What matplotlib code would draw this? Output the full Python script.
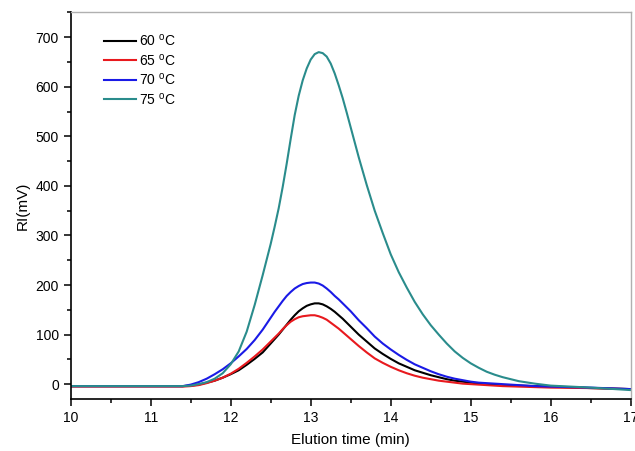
import numpy as np
import matplotlib
matplotlib.use("Agg")
from matplotlib import pyplot as plt
from matplotlib.ticker import MultipleLocator

plt.rcParams['font.family'] = ['Liberation Sans', 'DejaVu Sans']
plt.rcParams['mathtext.fontset'] = 'custom'
plt.rcParams['mathtext.rm'] = 'Liberation Sans'

# Elution time grid (min), finer around the peak
time = [10.0, 10.5, 11.0, 11.4, 11.5, 11.6, 11.7, 11.8, 11.9,
        12.0, 12.1, 12.2, 12.3, 12.4, 12.5,
        12.55, 12.6, 12.65, 12.7, 12.75, 12.8, 12.85, 12.9, 12.95, 13.0, 13.05,
        13.1, 13.15, 13.2, 13.25, 13.3, 13.35, 13.4, 13.45, 13.5, 13.55, 13.6,
        13.7, 13.8, 13.9, 14.0, 14.1, 14.2, 14.3, 14.4, 14.5, 14.6, 14.7, 14.8, 14.9,
        15.0, 15.1, 15.2, 15.3, 15.4, 15.6, 15.8, 16.0, 16.5, 17.0]

ri_60 = [-4, -4, -4, -4, -3, -1, 3, 7, 13,
         20, 28, 39, 51, 64, 82,
         91, 100, 110, 120, 130, 139, 147, 153, 158, 161, 163,
         163, 161, 157, 152, 146, 139, 132, 124, 116, 108, 100,
         86, 72, 61, 51, 42, 35, 28, 23, 18, 14, 10, 7, 5,
         3, 1, 0, -1, -2, -3, -4, -5, -8, -10]

ri_65 = [-5, -5, -5, -5, -4, -2, 2, 7, 13,
         21, 31, 43, 56, 70, 86,
         94, 102, 111, 119, 126, 131, 135, 137, 138, 139, 139,
         137, 134, 130, 124, 118, 112, 105, 98, 91, 84, 77,
         64, 52, 43, 35, 28, 22, 17, 13, 10, 7, 5, 3, 1,
         0, -1, -2, -3, -4, -5, -6, -7, -8, -10]

ri_70 = [-4, -4, -4, -4, -1, 4, 11, 20, 30,
         42, 56, 71, 89, 110, 134,
         146, 157, 168, 178, 186, 193, 198, 202, 204, 205, 205,
         203, 199, 193, 186, 178, 171, 163, 155, 147, 138, 129,
         113, 96, 82, 70, 59, 49, 40, 33, 26, 20, 15, 11, 8,
         5, 3, 2, 1, 0, -2, -4, -5, -7, -10]

ri_75 = [-4, -4, -4, -4, -3, 0, 4, 11, 22,
         40, 66, 106, 160, 220, 283,
         318, 355, 398, 445, 495, 543, 582, 613, 637, 655, 666,
         670, 668, 661, 647, 627, 603, 577, 548, 518, 488, 458,
         402, 350, 305, 262, 226, 195, 166, 141, 119, 100, 82, 66, 53,
         42, 33, 25, 19, 14, 6, 1, -3, -7, -12]

labels = ['60 $^\\mathrm{o}$C', '65 $^\\mathrm{o}$C', '70 $^\\mathrm{o}$C', '75 $^\\mathrm{o}$C']
colors = ['#000000', '#e8191e', '#1a1ae6', '#2a8c8c']


def main():
    fig = plt.figure(figsize=(6.35, 4.51), dpi=100)
    ax = fig.add_axes([0.1113, 0.1153, 0.882, 0.857])

    for y, lab, c in zip([ri_60, ri_65, ri_70, ri_75], labels, colors):
        ax.plot(time, y, color=c, lw=1.5, label=lab)

    ax.set_xlim(10, 17)
    ax.set_ylim(-30, 750)
    ax.xaxis.set_major_locator(MultipleLocator(1))
    ax.xaxis.set_minor_locator(MultipleLocator(0.5))
    ax.yaxis.set_minor_locator(MultipleLocator(50))
    ax.set_yticks(np.arange(0, 701, 100))

    ax.tick_params(which='major', direction='out', length=5, width=1.1, labelsize=10)
    ax.tick_params(which='minor', direction='out', length=3, width=1.1)
    for s in ['left', 'bottom']:
        ax.spines[s].set_linewidth(1.2)
    for s in ['top', 'right']:
        ax.spines[s].set_color('#b0b0b0')
        ax.spines[s].set_linewidth(1.0)

    ax.set_xlabel('Elution time (min)', fontsize=11, labelpad=6)
    ax.set_ylabel('RI(mV)', fontsize=11, labelpad=4)

    ax.legend(loc='upper left', bbox_to_anchor=(0.038, 0.98), frameon=False,
              fontsize=10, handlelength=2.3, handletextpad=0.2, labelspacing=0.25)

    fig.savefig('out.png', dpi=100)


if __name__ == '__main__':
    main()
